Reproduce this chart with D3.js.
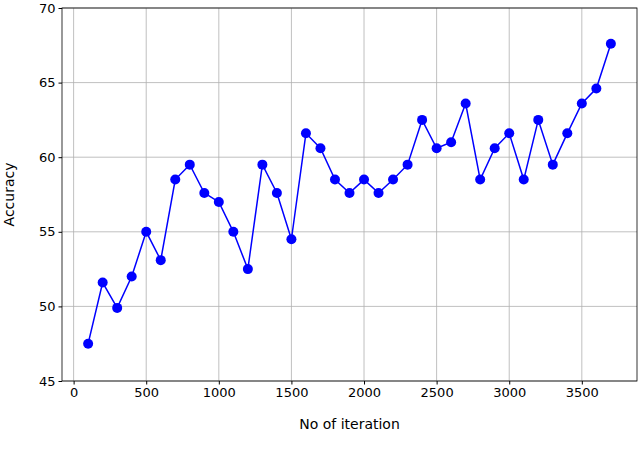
<!DOCTYPE html>
<html><head><meta charset="utf-8">
<script src="https://cdn.jsdelivr.net/npm/d3@7"></script>
<style>body{margin:0;background:#fff}text{font-family:"DejaVu Sans",sans-serif}</style>
</head><body><svg id="c" width="640" height="464"></svg>
<script>
const iterations=[100,200,300,400,500,600,700,800,900,1000,1100,1200,1300,1400,1500,1600,1700,1800,1900,2000,2100,2200,2300,2400,2500,2600,2700,2800,2900,3000,3100,3200,3300,3400,3500,3600,3700];
const accuracy=[47.5,51.6,49.9,52,55,53.1,58.5,59.5,57.6,57,55,52.5,59.5,57.6,54.5,61.6,60.6,58.5,57.6,58.5,57.6,58.5,59.5,62.5,60.6,61,63.6,58.5,60.6,61.6,58.5,62.5,59.5,61.6,63.6,64.6,67.6];
const xTicks=[0,500,1000,1500,2000,2500,3000,3500];
const yTicks=[45,50,55,60,65,70];
const svg=d3.select("#c");
const L=62,R=637,T=8,B=381;
const x=d3.scaleLinear().domain([-80,3880]).range([L,R]);
const y=d3.scaleLinear().domain([45,70]).range([B,T]);
const g=svg.append("g");
g.selectAll(".gx").data(xTicks).join("line").attr("x1",d=>x(d)).attr("x2",d=>x(d)).attr("y1",T).attr("y2",B).attr("stroke","#b0b0b0").attr("stroke-width",0.8);
g.selectAll(".gy").data(yTicks).join("line").attr("y1",d=>y(d)).attr("y2",d=>y(d)).attr("x1",L).attr("x2",R).attr("stroke","#b0b0b0").attr("stroke-width",0.8);
const xa=svg.append("g").attr("transform",`translate(0,${B})`).call(d3.axisBottom(x).tickValues(xTicks).tickFormat(d3.format("d")).tickSize(3.5).tickPadding(3));
const ya=svg.append("g").attr("transform",`translate(${L},0)`).call(d3.axisLeft(y).tickValues(yTicks).tickFormat(d3.format("d")).tickSize(3.5).tickPadding(3));
[xa,ya].forEach(a=>{a.select(".domain").remove();a.selectAll("text").attr("font-size",13).attr("fill","#000").attr("font-family","DejaVu Sans");});
svg.append("rect").attr("x",L).attr("y",T).attr("width",R-L).attr("height",B-T).attr("fill","none").attr("stroke","#000").attr("stroke-width",0.8);
svg.append("path").datum(iterations.map((d,i)=>[d,accuracy[i]])).attr("d",d3.line().x(d=>x(d[0])).y(d=>y(d[1]))).attr("fill","none").attr("stroke","#0000ff").attr("stroke-width",1.5);
svg.selectAll(".pt").data(iterations.map((d,i)=>[d,accuracy[i]])).join("circle").attr("cx",d=>x(d[0])).attr("cy",d=>y(d[1])).attr("r",5).attr("fill","#0000ff");
svg.append("text").attr("x",(L+R)/2).attr("y",429).attr("text-anchor","middle").attr("font-size",14).text("No of iteration");
svg.append("text").attr("transform",`translate(14,${(T+B)/2}) rotate(-90)`).attr("text-anchor","middle").attr("font-size",14).text("Accuracy");
</script></body></html>
